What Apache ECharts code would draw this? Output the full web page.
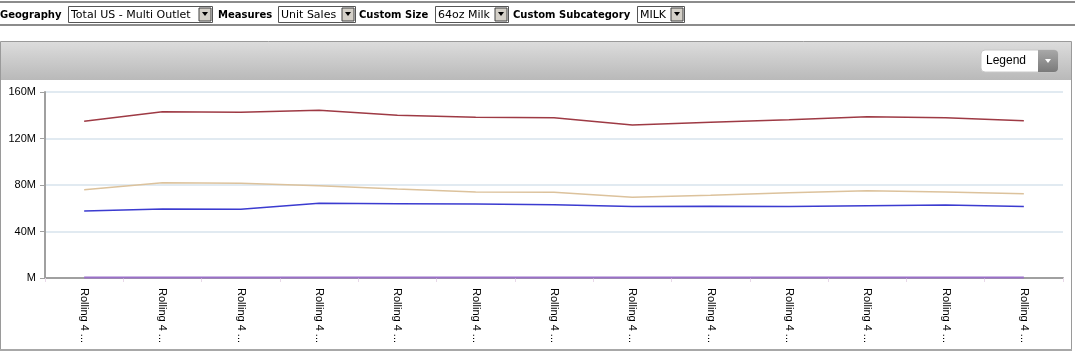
<!DOCTYPE html>
<html><head><meta charset="utf-8">
<script src="https://cdn.jsdelivr.net/npm/echarts@6/dist/echarts.min.js"></script>
<style>html,body{margin:0;padding:0;background:#fff;}#c{width:1075px;height:356px;}</style>
</head><body><div id="c"></div>
<script>
const categories = ['Rolling 4 ...','Rolling 4 ...','Rolling 4 ...','Rolling 4 ...','Rolling 4 ...','Rolling 4 ...','Rolling 4 ...','Rolling 4 ...','Rolling 4 ...','Rolling 4 ...','Rolling 4 ...','Rolling 4 ...','Rolling 4 ...'];
const seriesRed = [134.8,143.1,142.5,144.3,140.0,138.2,137.9,131.6,133.9,136.2,138.8,137.9,135.3];
const seriesTan = [76.0,82.0,81.5,79.4,76.6,74.0,73.8,69.4,71.1,73.4,75.1,74.0,72.5];
const seriesBlue = [57.6,59.4,59.1,64.3,63.9,63.7,63.1,61.4,61.7,61.4,62.2,62.8,61.4];
const seriesPurple = [0.5,0.5,0.5,0.5,0.5,0.5,0.5,0.5,0.5,0.5,0.5,0.5,0.5];
const yTicks = [0,40,80,120,160];
const filters = [
  {label:'Geography', value:'Total US - Multi Outlet', lx:0, bx:68, bw:144},
  {label:'Measures', value:'Unit Sales', lx:218, bx:278, bw:77},
  {label:'Custom Size', value:'64oz Milk', lx:359, bx:435, bw:73},
  {label:'Custom Subcategory', value:'MILK', lx:513, bx:637, bw:47}
];

const chart = echarts.init(document.getElementById('c'), null, {renderer:'canvas'});
const g = [];
g.push({type:'rect', shape:{x:0,y:1,width:1075,height:2}, style:{fill:'#8c8c8c'}, z:1});
g.push({type:'rect', shape:{x:0,y:24,width:1075,height:2}, style:{fill:'#8c8c8c'}, z:1});
filters.forEach(f=>{
  g.push({type:'text', x:f.lx, y:15, style:{text:f.label, font:'bold 10px "DejaVu Sans", sans-serif', fill:'#000', verticalAlign:'middle'}, z:2});
  g.push({type:'rect', shape:{x:f.bx+0.5,y:6.5,width:f.bw,height:16}, style:{fill:'#fff', stroke:'#555', lineWidth:1}, z:2});
  g.push({type:'text', x:f.bx+3, y:15, style:{text:f.value, font:'11px "DejaVu Sans", sans-serif', fill:'#000', verticalAlign:'middle'}, z:3});
  const ax = f.bx+f.bw-13;
  g.push({type:'rect', shape:{x:ax,y:8,width:12,height:13}, style:{fill:'#d4d0c8', stroke:'#404040', lineWidth:1}, z:3});
  g.push({type:'polygon', shape:{points:[[ax+3,12],[ax+9,12],[ax+6,16]]}, style:{fill:'#000'}, z:4});
});
g.push({type:'rect', shape:{x:0.5,y:41.5,width:1071,height:308}, style:{fill:'#fff', stroke:'#9a9a9a', lineWidth:1}, z:0});
g.push({type:'rect', shape:{x:1,y:42,width:1070,height:38}, style:{fill:new echarts.graphic.LinearGradient(0,0,0,1,[{offset:0,color:'#dcdcdc'},{offset:1,color:'#b9b9b9'}])}, z:1});
g.push({type:'rect', shape:{x:0,y:349,width:1072,height:2}, style:{fill:'#a8a8a8'}, z:1});
g.push({type:'rect', shape:{x:981,y:50,width:77,height:22,r:4}, style:{fill:'#fff', stroke:'#c8c8c8', lineWidth:1}, z:2});
g.push({type:'rect', shape:{x:1038,y:50,width:20,height:22,r:[0,4,4,0]}, style:{fill:new echarts.graphic.LinearGradient(0,0,0,1,[{offset:0,color:'#a8a8a8'},{offset:1,color:'#7a7a7a'}])}, z:3});
g.push({type:'polygon', shape:{points:[[1045,59],[1051,59],[1048,63]]}, style:{fill:'#fff'}, z:4});
g.push({type:'text', x:986, y:61, style:{text:'Legend', font:'12px Arial, "Liberation Sans", sans-serif', fill:'#000', verticalAlign:'middle'}, z:4});

chart.setOption({
  animation:false,
  backgroundColor:'transparent',
  graphic:g,
  grid:{left:45, top:92, width:1018, height:186, containLabel:false},
  xAxis:{
    type:'category', data:categories, boundaryGap:true,
    axisLine:{lineStyle:{color:'#a0a0a0', width:2}},
    axisTick:{show:true, length:4, lineStyle:{color:'#e8d8e8'}},
    axisLabel:{rotate:-90, margin:10, fontSize:11, fontFamily:'Arial, "Liberation Sans", sans-serif', color:'#000', interval:0},
    splitLine:{show:false}
  },
  yAxis:{
    type:'value', min:0, max:160, interval:40,
    axisLine:{show:true, lineStyle:{color:'#a0a0a0', width:2}},
    axisTick:{show:true, length:5, lineStyle:{color:'#a0a0a0'}},
    axisLabel:{fontSize:11, fontFamily:'Arial, "Liberation Sans", sans-serif', color:'#000', margin:9,
      formatter:v=> v===0 ? 'M' : v+'M'},
    splitLine:{show:true, lineStyle:{color:'#e1eaf1', width:2}}
  },
  series:[
    {type:'line', data:seriesRed, symbol:'none', lineStyle:{color:'#9e3a44', width:1.5}, z:5},
    {type:'line', data:seriesTan, symbol:'none', lineStyle:{color:'#dcc29c', width:1.5}, z:5},
    {type:'line', data:seriesBlue, symbol:'none', lineStyle:{color:'#3b3bd0', width:1.5}, z:5},
    {type:'line', data:seriesPurple, symbol:'none', lineStyle:{color:'#9a70c8', width:2}, z:6}
  ]
});
</script></body></html>
